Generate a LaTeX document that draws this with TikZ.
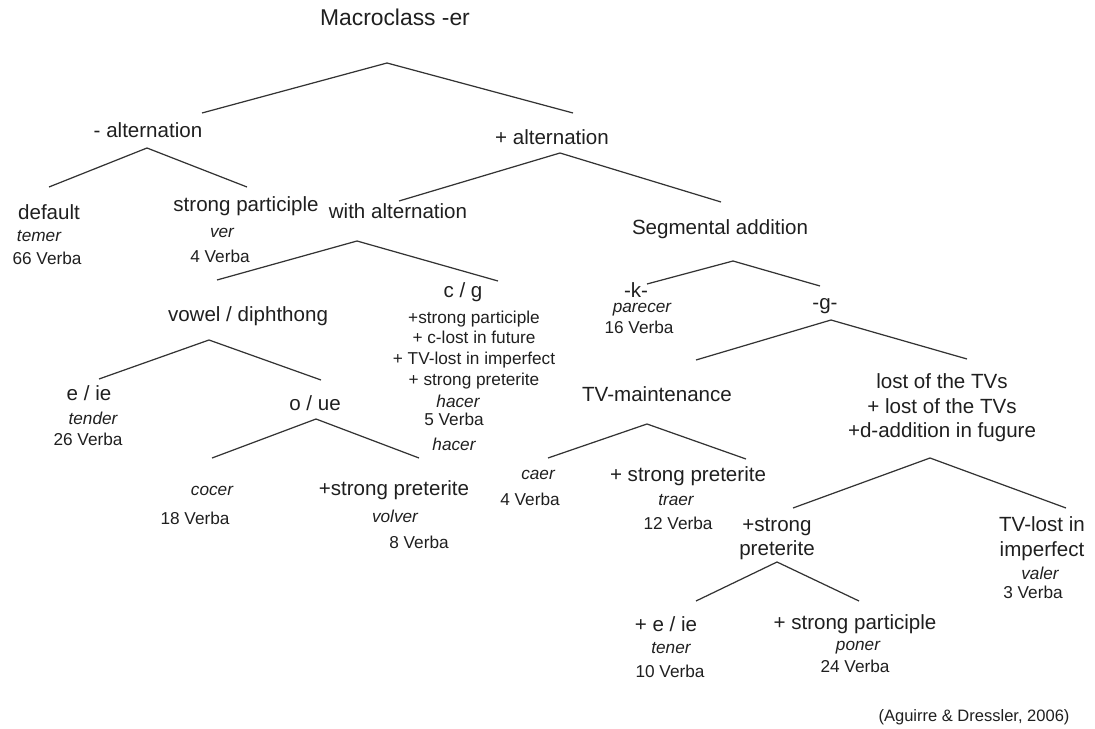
\documentclass[tikz,border=0pt]{standalone}
\usepackage{fontspec}
\setmainfont{Liberation Sans}
\usepackage{tikz}

\begin{document}
\begin{tikzpicture}[x=0.02cm, y=-0.02cm, line width=0.7pt,
  lbl/.style={inner sep=0pt, align=center, text=black!88, font=\fontsize{11.7}{13.9}\selectfont},
  ex/.style={inner sep=0pt, text=black!88, font=\fontsize{9.8}{11.8}\selectfont\itshape},
  cnt/.style={inner sep=0pt, align=center, text=black!88, font=\fontsize{9.8}{11.8}\selectfont},
  branch/.style={draw=black!80, line join=miter}]
\useasboundingbox (0,0) rectangle (1095,729);

\node [lbl, font=\fontsize{13}{15}\selectfont] (macro) at (395,17) {Macroclass -er};
\node [lbl] (minusalt) at (148,130) {- alternation};
\node [lbl] (plusalt) at (552,137) {+ alternation};

\node [lbl] (default) at (49,212) {default};
\node [ex] (defaultEx) at (39,236) {temer};
\node [cnt] (defaultN) at (47,258) {66 Verba};

\node [lbl] (strpart) at (246,206) {strong participle};
\node [ex] (strpartEx) at (222,233) {ver};
\node [cnt] (strpartN) at (220,256) {4 Verba};

\node [lbl] (withalt) at (398,211) {with alternation};
\node [lbl] (segadd) at (720,229) {Segmental addition};

\node [lbl] (vowdiph) at (248,316) {vowel / diphthong};
\node [lbl] (cg) at (463,292) {c / g};
\node [cnt, font=\fontsize{9.8}{11.9}\selectfont] (cgList) at (474,350) {+strong participle\\+ c-lost in future\\+ TV-lost in imperfect\\+ strong preterite};
\node [ex] (cgEx) at (458,401) {hacer};
\node [cnt] (cgN) at (454,419) {5 Verba};
\node [ex] (cgExB) at (454,444) {hacer};

\node [lbl] (ki) at (636,290) {-k-};
\node [ex] (kiEx) at (642,310) {parecer};
\node [cnt] (kiN) at (639,327) {16 Verba};
\node [lbl] (gi) at (825,306) {-g-};

\node [lbl] (eie) at (89,393) {e / ie};
\node [ex] (eieEx) at (93,418) {tender};
\node [cnt] (eieN) at (88,439) {26 Verba};
\node [lbl] (oue) at (315,403) {o / ue};

\node [ex] (cocerEx) at (212,491) {cocer};
\node [cnt] (cocerN) at (195,518) {18 Verba};
\node [lbl] (sprete) at (394,490) {+strong preterite};
\node [ex] (spreteEx) at (395,516) {volver};
\node [cnt] (spreteN) at (419,542) {8 Verba};

\node [lbl] (tvmaint) at (657,394) {TV-maintenance};
\node [ex] (caerEx) at (538,475) {caer};
\node [cnt] (caerN) at (530,499) {4 Verba};
\node [lbl] (tvpret) at (688,476) {+ strong preterite};
\node [ex] (tvpretEx) at (676,500) {traer};
\node [cnt] (tvpretN) at (678,523) {12 Verba};

\node [lbl] (losttv) at (942,408) {lost of the TVs\\+ lost of the TVs\\+d-addition in fugure};
\node [lbl, font=\fontsize{11.7}{13.7}\selectfont] (gpret) at (777,539) {+strong\\preterite};
\node [lbl, font=\fontsize{11.7}{14.2}\selectfont] (tvlost) at (1042,539) {TV-lost in\\imperfect};
\node [ex] (tvlostEx) at (1040,573) {valer};
\node [cnt] (tvlostN) at (1033,592) {3 Verba};

\node [lbl] (peie) at (666,624) {+ e / ie};
\node [ex] (peieEx) at (671,648) {tener};
\node [cnt] (peieN) at (670,671) {10 Verba};
\node [lbl] (ppart) at (855,624) {+ strong participle};
\node [ex] (ppartEx) at (858,648) {poner};
\node [cnt] (ppartN) at (855,666) {24 Verba};

\node [cnt, font=\fontsize{9.4}{11}\selectfont] (source) at (974,717) {(Aguirre \& Dressler, 2006)};

\coordinate (macroV) at (387,63);
\coordinate (minusaltT) at (202,113);
\coordinate (plusaltT) at (573,113);
\coordinate (minusaltV) at (147,148);
\coordinate (defaultT) at (49,187);
\coordinate (strpartT) at (247,187);
\coordinate (plusaltV) at (560,153);
\coordinate (withaltT) at (399,201);
\coordinate (segaddT) at (721,202);
\coordinate (withaltV) at (357,241);
\coordinate (vowdiphT) at (217,280);
\coordinate (cgT) at (498,281);
\coordinate (vowdiphV) at (209,340);
\coordinate (eieT) at (99,379);
\coordinate (oueT) at (321,380);
\coordinate (oueV) at (316,419);
\coordinate (cocerT) at (212,458);
\coordinate (spreteT) at (419,458);
\coordinate (segaddV) at (733,261);
\coordinate (kiT) at (647,284);
\coordinate (giT) at (820,286);
\coordinate (giV) at (831,320);
\coordinate (tvmaintT) at (696,360);
\coordinate (losttvT) at (967,359);
\coordinate (tvmaintV) at (647,424);
\coordinate (caerT) at (548,458);
\coordinate (tvpretT) at (746,459);
\coordinate (losttvV) at (930,458);
\coordinate (gpretT) at (793,508);
\coordinate (tvlostT) at (1066,508);
\coordinate (gpretV) at (777,562);
\coordinate (peieT) at (696,601);
\coordinate (ppartT) at (859,601);

\draw [branch] (minusaltT) -- (macroV) -- (plusaltT);
\draw [branch] (defaultT) -- (minusaltV) -- (strpartT);
\draw [branch] (withaltT) -- (plusaltV) -- (segaddT);
\draw [branch] (vowdiphT) -- (withaltV) -- (cgT);
\draw [branch] (eieT) -- (vowdiphV) -- (oueT);
\draw [branch] (cocerT) -- (oueV) -- (spreteT);
\draw [branch] (kiT) -- (segaddV) -- (giT);
\draw [branch] (tvmaintT) -- (giV) -- (losttvT);
\draw [branch] (caerT) -- (tvmaintV) -- (tvpretT);
\draw [branch] (gpretT) -- (losttvV) -- (tvlostT);
\draw [branch] (peieT) -- (gpretV) -- (ppartT);
\end{tikzpicture}
\end{document}
